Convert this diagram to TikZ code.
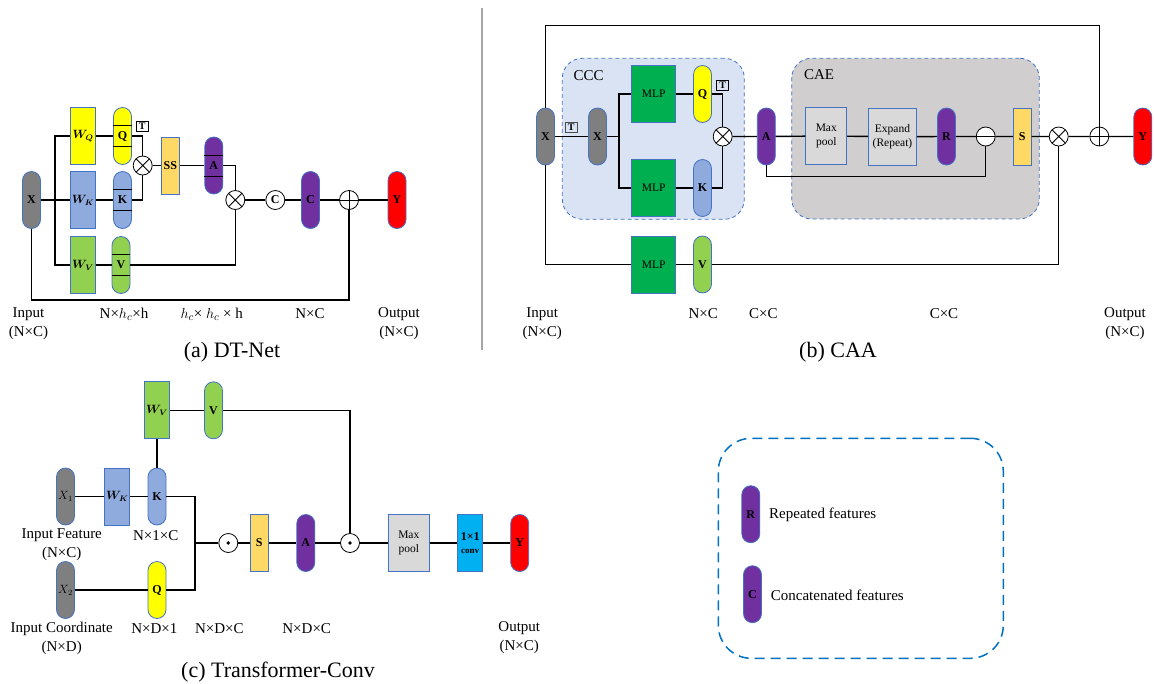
\documentclass[tikz,border=0pt]{standalone}
\usepackage{amsmath}
\usepackage{bm}
\usepackage{fontspec}
\setmainfont{Liberation Serif}
\usetikzlibrary{positioning}
\definecolor{bord}{RGB}{68,114,196}
\definecolor{cgray}{RGB}{127,127,127}
\definecolor{cblue}{RGB}{143,170,220}
\definecolor{clgreen}{RGB}{146,208,80}
\definecolor{cgreen}{RGB}{0,176,80}
\definecolor{cyellow}{RGB}{255,255,0}
\definecolor{corange}{RGB}{255,217,102}
\definecolor{cpurple}{RGB}{112,48,160}
\definecolor{cred}{RGB}{255,0,0}
\definecolor{clgray}{RGB}{217,217,217}
\definecolor{ccyan}{RGB}{0,176,240}
\definecolor{cccfill}{RGB}{218,227,243}
\definecolor{caefill}{RGB}{208,206,206}
\definecolor{legblue}{RGB}{0,112,192}

\begin{document}
\begin{tikzpicture}[x=1pt,y=-1pt,
  conn/.style={line width=1.4pt},
  base/.style={draw=bord,line width=0.8pt,inner sep=0pt,font=\fontsize{12}{13}\selectfont\bfseries},
  capsule/.style={base,rounded corners=9pt,minimum width=18pt,minimum height=57pt},
  block/.style={base,minimum width=25pt,minimum height=57pt},
  box/.style={base,minimum width=41pt,minimum height=57pt,font=\fontsize{11.5}{13.5}\selectfont,align=center},
  op/.style={circle,draw,line width=0.8pt,minimum size=19pt,inner sep=0pt,fill=white},
  otimes/.style={op,path picture={\draw[line width=0.8pt]
    ([shift={(45:10pt)}]path picture bounding box.center) -- ([shift={(225:10pt)}]path picture bounding box.center)
    ([shift={(135:10pt)}]path picture bounding box.center) -- ([shift={(-45:10pt)}]path picture bounding box.center);}},
  oplus/.style={op,path picture={\draw[line width=0.8pt]
    ([xshift=-10pt]path picture bounding box.center) -- ([xshift=10pt]path picture bounding box.center)
    ([yshift=-10pt]path picture bounding box.center) -- ([yshift=10pt]path picture bounding box.center);}},
  ominus/.style={op,path picture={\draw[line width=0.8pt]
    ([xshift=-10pt]path picture bounding box.center) -- ([xshift=10pt]path picture bounding box.center);}},
  odot/.style={op,path picture={\fill[black] (path picture bounding box.center) circle[radius=1.9pt];}},
  tbox/.style={draw,line width=0.8pt,inner sep=0.5pt,minimum width=12pt,minimum height=10pt,font=\fontsize{10}{10}\selectfont\bfseries},
  group/.style={draw=bord,dash pattern=on 4pt off 3pt,line width=0.8pt,rounded corners=20pt,inner sep=0pt},
  legbox/.style={draw=legblue,dash pattern=on 10pt off 6pt,line width=1.5pt,rounded corners=33pt,inner sep=0pt},
  lbl/.style={font=\fontsize{15}{19}\selectfont,align=center,inner sep=0pt},
  capt/.style={font=\fontsize{22}{26}\selectfont,inner sep=0pt}]
\useasboundingbox (0,0) rectangle (1154,683);

\node[capsule,fill=cgray] (xa) at (31.5,200) {X};
\node[block,fill=cyellow] (wq) at (83,136) {$\bm{W_Q}$};
\node[block,fill=cblue] (wk) at (83,200) {$\bm{W_K}$};
\node[block,fill=clgreen] (wv) at (83,265) {$\bm{W_V}$};
\node[capsule,fill=cyellow] (qa) at (122.5,136) {Q};
\node[capsule,fill=cblue] (ka) at (122.5,200) {K};
\node[capsule,fill=clgreen] (va) at (121,265) {V};
\node[tbox] (ta) at (142.3,126.5) {T};
\node[otimes] (mula) at (142.7,165.5) {};
\node[block,minimum width=18pt,fill=corange] (ss) at (170.3,165.5) {SS};
\node[capsule,fill=cpurple] (aa) at (213.8,165.5) {A};
\node[otimes] (mulb) at (235.3,200) {};
\node[op,font=\fontsize{12}{13}\selectfont\bfseries] (cat) at (275.3,200) {C};
\node[capsule,fill=cpurple] (ca) at (310.5,200) {C};
\node[oplus] (adda) at (349,200) {};
\node[capsule,fill=cred] (ya) at (397,200) {Y};
\coordinate (ja) at (55,200);
\coordinate (resa) at (349,300);
\foreach \n in {qa,ka,va,aa}
  \draw[line width=0.8pt] ([yshift=10.5pt]\n.west) -- ([yshift=10.5pt]\n.east)
    ([yshift=-10.5pt]\n.west) -- ([yshift=-10.5pt]\n.east);
\draw[conn] (xa) -- (wk) (wq.west) -| (ja) |- (wv.west);
\draw[conn] (wq) -- (qa) (wk) -- (ka) (wv) -- (va);
\draw[conn] (qa.east) -| (mula) (ka.east) -| (mula);
\draw[conn] (mula) -- (ss) -- (aa);
\draw[conn] (aa.east) -| (mulb) (va.east) -| (mulb);
\draw[conn] (mulb) -- (cat) -- (ca) -- (adda) -- (ya);
\draw[conn] (xa.south) |- (resa) -- (adda);
\node[lbl] at (28.5,323.5) {Input\\(N×C)};
\node[lbl] at (124,314) {N×$h_c$×h};
\node[lbl] at (211.7,314) {$h_c$× $h_c$ × h};
\node[lbl] at (310,314) {N×C};
\node[lbl] at (399,323.5) {Output\\(N×C)};
\node[capt] at (232,352) {(a) DT-Net};

\draw[line width=1.5pt,black!35] (482,8) -- (482,350);

\node[group,fill=cccfill,minimum width=182pt,minimum height=161pt] (ccc) at (653.3,138.8) {};
\node[lbl] at (588.7,76) {CCC};
\node[group,fill=caefill,minimum width=247.6pt,minimum height=160.7pt] (cae) at (915.5,138.6) {};
\node[lbl] at (819,75) {CAE};
\node[capsule,fill=cgray] (xb) at (545.5,136.5) {X};
\node[tbox,draw=black!70] (tb1) at (571.3,127.7) {T};
\node[capsule,fill=cgray] (xb2) at (597.5,136.5) {X};
\node[box,fill=cgreen,minimum width=44pt] (mlpq) at (653.7,94) {MLP};
\node[box,fill=cgreen,minimum width=44pt] (mlpk) at (653.7,188) {MLP};
\node[capsule,fill=cyellow] (qb) at (702.5,94) {Q};
\node[capsule,fill=cblue] (kb) at (702.5,188) {K};
\node[tbox] (tb2) at (722.7,85) {T};
\node[otimes] (mulc) at (722.7,136.5) {};
\node[capsule,fill=cpurple] (ab) at (766.3,136.5) {A};
\node[box,fill=clgray] (mp) at (826.3,136) {Max\\pool};
\node[box,fill=clgray,minimum width=48pt] (ex) at (892.5,136.7) {Expand\\(Repeat)};
\node[capsule,fill=cpurple] (rb) at (946.5,136.5) {R};
\node[ominus] (catb) at (985.7,136.5) {};
\node[block,minimum width=18pt,fill=corange] (sb) at (1022.2,136.5) {S};
\node[otimes] (muld) at (1058.7,136.5) {};
\node[oplus] (addb) at (1099.3,136.5) {};
\node[capsule,fill=cred] (yb) at (1142.8,136.5) {Y};
\node[box,fill=cgreen,minimum width=44pt] (mlpv) at (653.7,264.5) {MLP};
\node[capsule,fill=clgreen] (vb) at (702.5,264.5) {V};
\coordinate (jb) at (619,136.5);
\coordinate (topb) at (1099.3,25.7);
\coordinate (catc) at (985.7,176.7);
\draw[conn] (xb.north) |- (topb) -- (addb);
\draw[conn] (xb) -- (xb2) -- (jb);
\draw[conn] (mlpq.west) -| (jb) |- (mlpk.west);
\draw[conn] (mlpq) -- (qb) (mlpk) -- (kb);
\draw[conn] (qb.east) -| (mulc) (kb.east) -| (mulc);
\draw[conn] (mulc) -- (ab) -- (mp) -- (ex) -- (rb) -- (catb) -- (sb) -- (muld) -- (addb) -- (yb);
\draw[conn] (ab.south) |- (catc) -- (catb);
\draw[conn] (xb.south) |- (mlpv.west);
\draw[conn] (mlpv) -- (vb);
\draw[conn] (vb.east) -| (muld);
\node[lbl] at (542.3,323.5) {Input\\(N×C)};
\node[lbl] at (703.3,314) {N×C};
\node[lbl] at (763.3,314) {C×C};
\node[lbl] at (944,314) {C×C};
\node[lbl] at (1125,323.5) {Output\\(N×C)};
\node[capt] at (838,352) {(b) CAA};

\node[block,fill=clgreen] (wvc) at (157,410.3) {$\bm{W_V}$};
\node[capsule,fill=clgreen] (vc) at (213.5,410.3) {V};
\node[capsule,fill=cgray,font=\fontsize{12}{13}\selectfont] (x1) at (65.5,496.5) {$X_1$};
\node[block,fill=cblue] (wkc) at (117.2,496.5) {$\bm{W_K}$};
\node[capsule,fill=cblue] (kc) at (157,496.5) {K};
\node[capsule,fill=cgray,font=\fontsize{12}{13}\selectfont] (x2) at (65.5,590) {$X_2$};
\node[capsule,fill=cyellow] (qc) at (157,590) {Q};
\node[odot] (dot1) at (228.3,543) {};
\node[block,minimum width=18pt,fill=corange] (sc) at (259.2,543) {S};
\node[capsule,fill=cpurple] (ac) at (305.8,543) {A};
\node[odot] (dot2) at (350,543) {};
\node[box,fill=clgray] (mpc) at (408.8,543) {Max\\pool};
\node[block,fill=ccyan,align=center] (conv) at (470.2,543) {\fontsize{12}{13}\selectfont 1×1\\\fontsize{9}{10}\selectfont conv};
\node[capsule,fill=cred] (yc) at (519.7,543) {Y};
\coordinate (jc) at (195,543);
\draw[conn] (wvc) -- (vc) (vc.east) -| (dot2);
\draw[conn] (wvc) -- (kc);
\draw[conn] (x1) -- (wkc) -- (kc) (x2) -- (qc);
\draw[conn] (kc.east) -| (jc) |- (qc.east);
\draw[conn] (jc) -- (dot1) -- (sc) -- (ac) -- (dot2) -- (mpc) -- (conv) -- (yc);
\node[lbl] at (61.7,545) {Input Feature\\(N×C)};
\node[lbl] at (155.7,535.7) {N×1×C};
\node[lbl] at (61.7,638) {Input Coordinate\\(N×D)};
\node[lbl] at (154.3,629) {N×D×1};
\node[lbl] at (219.3,629) {N×D×C};
\node[lbl] at (306.7,629) {N×D×C};
\node[lbl] at (519.3,638) {Output\\(N×C)};
\node[capt] at (278,672) {(c) Transformer-Conv};

\node[legbox,minimum width=285pt,minimum height=220pt] (leg) at (860.8,548.3) {};
\node[capsule,fill=cpurple] (lr) at (750.8,514.2) {R};
\node[lbl,anchor=west] (lrt) at (769,515) {Repeated features};
\node[capsule,fill=cpurple] (lc) at (752.5,594.2) {C};
\node[lbl,anchor=west] (lct) at (770.7,595) {Concatenated features};
\end{tikzpicture}
\end{document}
